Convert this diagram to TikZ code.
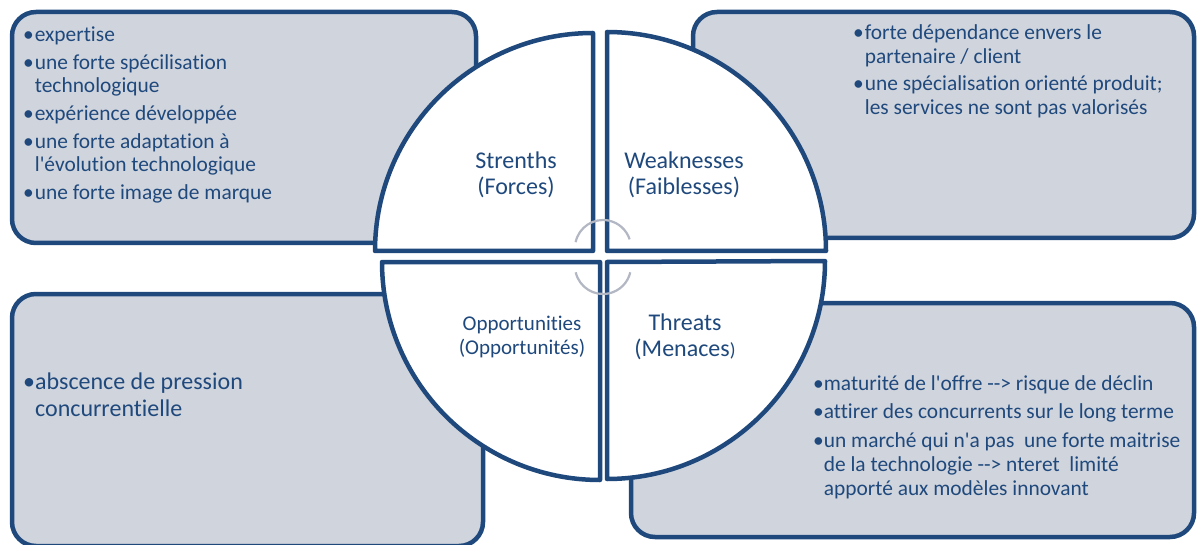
\documentclass[tikz,border=0pt]{standalone}
\usepackage{fontspec}
\setmainfont{Carlito}[Ligatures=NoCommon]
\definecolor{swotblue}{HTML}{1F497D}
\definecolor{panelgray}{HTML}{D0D4DC}
\definecolor{turngray}{HTML}{B2B7C3}

\begin{document}
\begin{tikzpicture}[
  x=1pt, y=-1pt,
  panel/.style={draw=swotblue, fill=panelgray, line width=4.5pt, rounded corners=24pt},
  wedge/.style={draw=swotblue, fill=white, line width=4.5pt, line join=round},
  turn/.style={draw=turngray, line width=2.2pt},
  list/.style={anchor=north west, inner sep=0pt, align=left, text=swotblue,
               font=\fontsize{21.4}{23}\selectfont},
  title/.style={inner sep=0pt, align=center, text=swotblue,
                font=\fontsize{24}{26.5}\selectfont}
]
\useasboundingbox (0,0) rectangle (1201,545);
%% the four panels
\draw[panel] (12,12)   rectangle (476,243);
\draw[panel] (693,12)  rectangle (1194,238);
\draw[panel] (12,294)  rectangle (483,546);
\draw[panel] (631,303) rectangle (1194,537);
%% the four quarters of the circle
\draw[wedge] (593,251) -- (593,33)  arc[start angle=90,  end angle=180, radius=218pt] -- cycle;
\draw[wedge] (607,251) -- (826,251) arc[start angle=0,   end angle=90,  radius=219pt] -- cycle;
\draw[wedge] (600,262) -- (382,262) arc[start angle=180, end angle=270, radius=218pt] -- cycle;
\draw[wedge] (607,262) -- (607,479) arc[start angle=270, end angle=360, radius=218pt] -- cycle;
%% turning arcs in the middle
\draw[turn] ([shift={(168:28pt)}]603,248) arc[start angle=168, end angle=18,  radius=28pt];
\draw[turn] ([shift={(193:28pt)}]603,266) arc[start angle=193, end angle=347, radius=28pt];
%% quarter titles
\node[title] (strengths) at (516,175) {Strenths\\(Forces)};
\node[title] (weak)      at (684,175) {Weaknesses\\(Faiblesses)};
\node[title, font=\fontsize{21}{23.5}\selectfont] (opport) at (522,337) {Opportunities\\(Opportunités)};
\node[title] (threats)   at (685,337) {Threats\\(Menaces{\fontsize{19}{20}\selectfont)}};
%% panel texts
\node[list] (strlist) at (23,25) {\begin{tabular}{@{}l@{\hspace{1pt}}l@{}}
  •&expertise\\[5pt]
  •&une forte spécilisation\\
   &technologique\\[5pt]
  •&expérience développée\\[5pt]
  •&une forte adaptation à\\
   &l\textquotesingle évolution technologique\\[5pt]
  •&une forte image de marque
\end{tabular}};
\node[list, font=\fontsize{21.4}{24}\selectfont] (weaklist) at (853,23) {\begin{tabular}{@{}l@{\hspace{1pt}}l@{}}
  •&forte dépendance envers le\\
   &partenaire / client\\[3pt]
  •&une spécialisation orienté produit;\\
   &les services ne sont pas valorisés
\end{tabular}};
\node[list, font=\fontsize{24}{27}\selectfont] (opplist) at (23,370) {\begin{tabular}{@{}l@{}l@{}}
  •&abscence de pression\\
   &concurrentielle
\end{tabular}};
\node[list, font=\fontsize{21.4}{24}\selectfont] (thrlist) at (813,373) {\begin{tabular}{@{}l@{\hspace{0pt}}l@{}}
  •&maturité de l\textquotesingle offre -{}-> risque de déclin\\[4.5pt]
  •&attirer des concurrents sur le long terme\\[4.5pt]
  •&un marché qui n\textquotesingle a pas\ \ une forte maitrise\\
   &de la technologie -{}-> nteret\ \ limité\\
   &apporté aux modèles innovant
\end{tabular}};
\end{tikzpicture}
\end{document}
